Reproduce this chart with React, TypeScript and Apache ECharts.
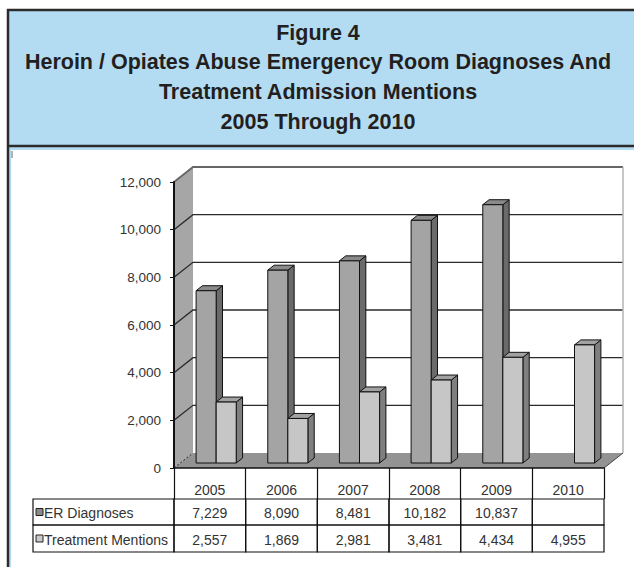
import React, { useEffect, useRef } from "react";
import * as echarts from "echarts";

const categories = ["2005", "2006", "2007", "2008", "2009", "2010"];
const erDiagnoses: (number | null)[] = [7229, 8090, 8481, 10182, 10837, null];
const treatmentMentions: (number | null)[] = [2557, 1869, 2981, 3481, 4434, 4955];
const seriesNames = ["ER Diagnoses", "Treatment Mentions"];
const titleLines = [
  "Figure 4",
  "Heroin / Opiates Abuse Emergency Room Diagnoses And",
  "Treatment Admission Mentions",
  "2005 Through 2010",
];
const yMax = 12000;
const yInterval = 2000;

const FONT = "'Liberation Sans', Arial, sans-serif";
const DX = 19;
const DY = -15;
const ROW_TOP = 499;
const ROW_MID = 525;
const ROW_BOT = 552;
const LABEL_LEFT = 33;

const fmt = (v: number | null) => (v == null ? "" : v.toLocaleString("en-US"));

export default function App() {
  const ref = useRef<HTMLDivElement>(null);
  useEffect(() => {
    if (!ref.current) return;
    const chart = echarts.init(ref.current, undefined, { renderer: "svg" });

    const tickValues: number[] = [];
    for (let v = 0; v <= yMax; v += yInterval) tickValues.push(v);

    const wallsRender = (params: any, api: any) => {
      const cs = params.coordSys;
      const x0 = cs.x;
      const x1 = cs.x + cs.width;
      const yTop = cs.y;
      const yBot = cs.y + cs.height;
      const children: any[] = [];
      children.push({
        type: "rect",
        shape: { x: x0 + DX, y: yTop + DY, width: x1 - x0, height: yBot - yTop },
        style: { fill: "#ffffff", stroke: "none" },
      });
      children.push({
        type: "polygon",
        shape: { points: [[x0, yBot], [x0, yTop], [x0 + DX, yTop + DY], [x0 + DX, yBot + DY]] },
        style: { fill: "#a6a6a6", stroke: "none" },
      });
      children.push({
        type: "polygon",
        shape: { points: [[x0, yBot], [x1, yBot], [x1 + DX, yBot + DY], [x0 + DX, yBot + DY]] },
        style: { fill: "#939393", stroke: "none" },
      });
      tickValues.forEach((v) => {
        const y = api.coord([0, v])[1];
        if (v === 0) {
          children.push({
            type: "line",
            shape: { x1: x0, y1: y, x2: x0 + DX, y2: y + DY },
            style: { stroke: "#222", lineWidth: 1, lineDash: [2, 2] },
          });
          return;
        }
        children.push({
          type: "polyline",
          shape: { points: [[x0, y], [x0 + DX, y + DY], [x1 + DX, y + DY]] },
          style: { stroke: v === yMax ? "#666" : "#2a2a2a", lineWidth: v === yMax ? 1.8 : 1.3, fill: "none" },
        });
      });
      children.push({
        type: "line",
        shape: { x1: x1 + DX, y1: yTop + DY, x2: x1 + DX, y2: yBot + DY },
        style: { stroke: "#b5b5b5", lineWidth: 1.5 },
      });
      children.push({
        type: "line",
        shape: { x1: x1, y1: yBot, x2: x1 + DX, y2: yBot + DY },
        style: { stroke: "#444", lineWidth: 1 },
      });
      return { type: "group", children };
    };

    const makeBarRender = (isER: boolean, front: string, side: string, top: string) =>
      (params: any, api: any) => {
        const idx = api.value(0);
        const v = api.value(1);
        if (v == null || isNaN(v)) return null;
        const base = api.coord([idx, 0]);
        const tp = api.coord([idx, v]);
        const bw = api.size([1, 0])[0] * 0.28;
        const sx = DX / 3;
        const sy = DY / 3;
        const dx = DX / 3;
        const dy = DY / 3;
        const x0 = base[0] + (isER ? -bw : 0) + sx;
        const x1 = x0 + bw;
        const yb = base[1] + sy;
        const yt = tp[1] + sy;
        const st = { stroke: "#111", lineWidth: 1, lineJoin: "round" };
        return {
          type: "group",
          children: [
            {
              type: "polygon",
              shape: { points: [[x1, yb], [x1, yt], [x1 + dx, yt + dy], [x1 + dx, yb + dy]] },
              style: { fill: side, ...st },
            },
            {
              type: "polygon",
              shape: { points: [[x0, yt], [x1, yt], [x1 + dx, yt + dy], [x0 + dx, yt + dy]] },
              style: { fill: top, ...st },
            },
            {
              type: "rect",
              shape: { x: x0, y: yt, width: bw, height: yb - yt },
              style: { fill: front, ...st },
            },
          ],
        };
      };

    const tableRender = (params: any, api: any) => {
      const idx = api.value(0);
      const cx = api.coord([idx, 0])[0];
      const w = api.size([1, 0])[0];
      const left = cx - w / 2;
      const rows = [
        { y0: ROW_TOP, y1: ROW_MID, text: fmt(erDiagnoses[idx]) },
        { y0: ROW_MID, y1: ROW_BOT, text: fmt(treatmentMentions[idx]) },
      ];
      const children: any[] = [];
      rows.forEach((r) => {
        children.push({
          type: "rect",
          shape: { x: left, y: r.y0, width: w, height: r.y1 - r.y0 },
          style: { fill: "none", stroke: "#111", lineWidth: 1.2 },
        });
        children.push({
          type: "text",
          x: cx,
          y: (r.y0 + r.y1) / 2 + 1,
          style: {
            text: r.text,
            fill: "#333",
            font: `14px ${FONT}`,
            align: "center",
            verticalAlign: "middle",
          },
        });
      });
      return { type: "group", children };
    };

    const graphics: any[] = [
      { type: "rect", z: -10, shape: { x: 8, y: 10, width: 640, height: 570 }, style: { fill: "#b3dcf3" } },
      { type: "rect", z: -9, shape: { x: 11, y: 150, width: 640, height: 430 }, style: { fill: "#ffffff" } },
      { type: "line", z: -8, shape: { x1: 8, y1: 9, x2: 8, y2: 570 }, style: { stroke: "#2b2b2b", lineWidth: 2.5 } },
      { type: "line", z: -8, shape: { x1: 7, y1: 10, x2: 640, y2: 10 }, style: { stroke: "#2b2b2b", lineWidth: 2.5 } },
      { type: "line", z: -8, shape: { x1: 7, y1: 146, x2: 640, y2: 146 }, style: { stroke: "#2b2b2b", lineWidth: 2.5 } },
      { type: "line", z: -8, shape: { x1: 12, y1: 151, x2: 12, y2: 158 }, style: { stroke: "#666", lineWidth: 1 } },
    ];
    const labelRows = [
      { y0: ROW_TOP, y1: ROW_MID, name: seriesNames[0], fill: "#8a8a8a" },
      { y0: ROW_MID, y1: ROW_BOT, name: seriesNames[1], fill: "#c8c8c8" },
    ];
    labelRows.forEach((r) => {
      const cy = (r.y0 + r.y1) / 2;
      graphics.push({
        type: "rect",
        z: 5,
        shape: { x: LABEL_LEFT, y: r.y0, width: 174 - LABEL_LEFT, height: r.y1 - r.y0 },
        style: { fill: "none", stroke: "#111", lineWidth: 1.2 },
      });
      graphics.push({
        type: "rect",
        z: 5,
        shape: { x: 36, y: cy - 3.5, width: 7, height: 7 },
        style: { fill: r.fill, stroke: "#222", lineWidth: 1 },
      });
      graphics.push({
        type: "text",
        z: 5,
        x: 44,
        y: cy + 1,
        style: { text: r.name, fill: "#333", font: `14px ${FONT}`, align: "left", verticalAlign: "middle" },
      });
    });

    chart.setOption({
      animation: false,
      backgroundColor: "transparent",
      title: {
        text: titleLines.join("\n"),
        left: 313,
        top: 13,
        textAlign: "center",
        textStyle: {
          fontFamily: FONT,
          fontSize: 21.5,
          fontWeight: "bold",
          color: "#231f20",
          lineHeight: 29.6,
        },
      },
      graphic: { elements: graphics },
      grid: { left: 174, right: 30, top: 182, bottom: 99, containLabel: false },
      xAxis: {
        type: "category",
        data: categories,
        z: 6,
        axisLine: { show: true, lineStyle: { color: "#111", width: 1.5 } },
        axisTick: { show: true, interval: 0, length: 31, lineStyle: { color: "#111", width: 1.2 } },
        axisLabel: { show: true, interval: 0, margin: 15, color: "#333", fontSize: 14, fontFamily: FONT },
        splitLine: { show: false },
      },
      yAxis: {
        type: "value",
        min: 0,
        max: yMax,
        interval: yInterval,
        z: 6,
        axisLine: { show: true, lineStyle: { color: "#111", width: 2 } },
        axisTick: { show: true, length: 4, lineStyle: { color: "#111", width: 1 } },
        axisLabel: {
          margin: 13,
          color: "#333",
          fontSize: 13.5,
          fontFamily: FONT,
          formatter: (v: number) => v.toLocaleString("en-US"),
        },
        splitLine: { show: false },
      },
      series: [
        {
          type: "custom",
          name: "walls",
          z: 1,
          clip: false,
          silent: true,
          renderItem: wallsRender,
          data: [[0, 0]],
          encode: { x: 0, y: 1 },
        },
        {
          type: "custom",
          name: seriesNames[0],
          z: 2,
          clip: false,
          renderItem: makeBarRender(true, "#a4a4a4", "#6a6a6a", "#8a8a8a"),
          data: erDiagnoses.map((v, i) => [i, v]).filter((d) => d[1] != null),
          encode: { x: 0, y: 1 },
        },
        {
          type: "custom",
          name: seriesNames[1],
          z: 3,
          clip: false,
          renderItem: makeBarRender(false, "#c6c6c6", "#7f7f7f", "#a2a2a2"),
          data: treatmentMentions.map((v, i) => [i, v]).filter((d) => d[1] != null),
          encode: { x: 0, y: 1 },
        },
        {
          type: "custom",
          name: "table",
          z: 4,
          clip: false,
          silent: true,
          renderItem: tableRender,
          data: categories.map((_, i) => [i, 0]),
          encode: { x: 0, y: 1 },
        },
      ],
    });
    return () => chart.dispose();
  }, []);

  return (
    <div
      ref={ref}
      style={{ position: "absolute", left: 0, top: 0, width: 634, height: 567 }}
    />
  );
}
